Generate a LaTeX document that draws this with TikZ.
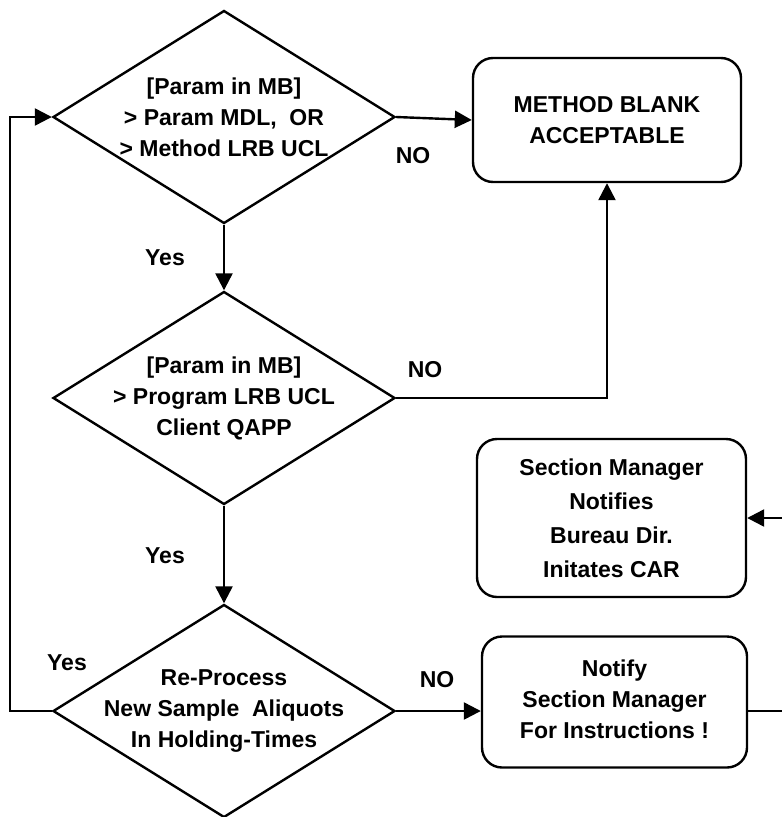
\documentclass[tikz,border=0pt]{standalone}
\usepackage{fontspec}
\setmainfont{Liberation Sans}
\usetikzlibrary{shapes.geometric,arrows.meta}
\begin{document}
\begin{tikzpicture}[x=1pt,y=-1pt,line width=2.4pt,
  txt/.style={font=\fontsize{23}{31}\selectfont\bfseries,align=center,inner sep=0pt},
  lbl/.style={font=\fontsize{23}{31}\selectfont\bfseries,inner sep=0pt},
  dia/.style={draw,diamond,minimum width=342pt,minimum height=213pt,inner sep=0pt},
  box/.style={draw,rectangle,rounded corners=20pt,inner sep=0pt},
  arr/.style={-{Triangle[length=17pt,width=17pt]}}]
\useasboundingbox (0,0) rectangle (782,817);
\clip (0,0) rectangle (782,817);

% decisions
\node[dia] (d1) at (224,117) {};
\node[txt] at (d1) {[Param in MB]\\> Param MDL,\ \ OR\\> Method LRB UCL};
\node[dia] (d2) at (224,398) {};
\node[txt] at (d2) {[Param in MB]\\> Program LRB UCL\\Client QAPP};
\node[dia] (d3) at (224,711) {};
\node[txt] at (d3) {Re-Process\\New Sample\ \ Aliquots\\In Holding-Times};

% actions
\node[box,minimum width=268pt,minimum height=124pt] (mb) at (607,120) {};
\node[txt] at (mb) {METHOD BLANK\\ACCEPTABLE};
\node[box,minimum width=269pt,minimum height=158pt] (sm) at (611.5,518) {};
\node[txt,font=\fontsize{23}{34}\selectfont\bfseries] at (sm) {Section Manager\\Notifies\\Bureau Dir.\\Initates CAR};
\node[box,minimum width=265pt,minimum height=131pt] (nt) at (614.5,702) {};
\node[txt] at ([yshift=3pt]nt) {Notify\\Section Manager\\For Instructions !};

% connectors
\coordinate (lp) at (10,0);
\coordinate (rp) at (800,0);
\draw[arr] (d1.south) -- (d2.north);
\draw[arr] (d2.south) -- (d3.north);
\draw[arr] (d1.east) -- (mb.west);
\draw[arr] (d2.east) -| (mb.south);
\draw[arr] (d3.east) -- (d3.east -| nt.west);
\draw[arr] (d3.west) -- (d3.west -| lp) |- (d1.west);
\draw[arr] (nt.east |- d3.east) -- (d3.east -| rp) |- (sm.east);

% labels
\node[lbl] at (413,156) {NO};
\node[lbl] at (165,258) {Yes};
\node[lbl] at (425,370) {NO};
\node[lbl] at (165,556) {Yes};
\node[lbl] at (67,663) {Yes};
\node[lbl] at (437,680) {NO};
\end{tikzpicture}
\end{document}
